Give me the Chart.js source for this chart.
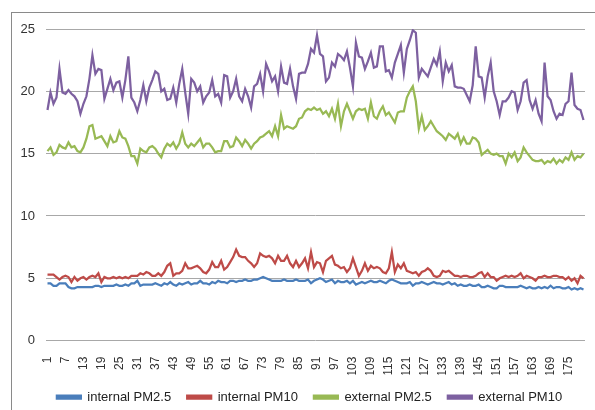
<!DOCTYPE html>
<html>
<head>
<meta charset="utf-8">
<script src="https://cdn.jsdelivr.net/npm/chart.js@4.4.1/dist/chart.umd.min.js"></script>
<style>
  html, body { margin: 0; padding: 0; background: #fff; overflow: hidden; }
  #wrap { position: relative; width: 595px; height: 410px; }
  #frame { position: absolute; left: 11px; top: 12px; width: 600px; height: 420px; border: 1px solid #8a8a8a; box-sizing: border-box; }
  canvas { position: absolute; left: 0; top: 0; }
</style>
</head>
<body>
<div id="wrap">
  <div id="frame"></div>
  <canvas id="c" width="595" height="410"></canvas>
</div>
<script>
// categories: day index 1..180
const categories = Array.from({length: 180}, (_, i) => String(i + 1));
const yTicks = [0, 5, 10, 15, 20, 25];
const seriesNames = ["internal PM2.5", "internal PM10", "external PM2.5", "external PM10"];

const internalPM25 = [
 4.6,4.6,4.4,4.4,4.6,4.6,4.6,4.3,4.2,4.2,
 4.3,4.3,4.3,4.3,4.3,4.3,4.4,4.4,4.3,4.4,
 4.4,4.4,4.4,4.5,4.4,4.4,4.5,4.4,4.6,4.6,
 4.8,4.4,4.5,4.5,4.5,4.5,4.6,4.5,4.4,4.6,
 4.5,4.7,4.5,4.4,4.6,4.5,4.6,4.7,4.5,4.6,
 4.6,4.8,4.6,4.6,4.5,4.7,4.6,4.8,4.7,4.7,
 4.6,4.8,4.8,4.7,4.8,4.8,4.9,4.8,4.8,4.9,
 4.9,5.0,5.1,5.0,4.9,4.8,4.8,4.8,4.8,4.9,
 4.8,4.8,4.8,4.9,4.8,4.8,4.8,4.9,4.6,4.8,
 4.9,5.0,4.9,4.7,4.8,4.9,4.6,4.8,4.7,4.7,
 4.8,4.6,4.8,4.5,4.6,4.7,4.6,4.7,4.8,4.7,
 4.7,4.8,4.7,4.6,4.8,4.9,4.8,4.7,4.6,4.6,
 4.6,4.7,4.4,4.6,4.6,4.7,4.6,4.5,4.6,4.7,
 4.6,4.6,4.5,4.6,4.7,4.5,4.6,4.4,4.5,4.4,
 4.4,4.5,4.4,4.4,4.5,4.3,4.3,4.4,4.3,4.2,
 4.2,4.4,4.4,4.3,4.3,4.3,4.3,4.3,4.4,4.3,
 4.2,4.3,4.2,4.2,4.3,4.2,4.3,4.2,4.4,4.2,
 4.3,4.3,4.2,4.2,4.3,4.1,4.2,4.1,4.2,4.1
];

const internalPM10 = [
 5.3,5.3,5.3,5.1,4.9,5.1,5.2,5.1,4.7,5.1,
 4.8,5.0,5.1,4.9,5.1,5.2,5.1,5.4,4.7,5.1,
 5.0,5.0,5.1,5.0,5.1,5.0,5.1,5.0,5.2,5.2,
 5.2,5.4,5.3,5.5,5.4,5.2,5.2,5.4,5.2,5.5,
 6.0,6.2,5.2,5.4,5.4,5.6,6.2,5.8,5.8,5.9,
 6.0,5.8,5.5,5.4,5.7,6.3,5.9,5.9,6.4,5.7,
 5.9,6.3,6.7,7.3,6.8,6.7,6.7,6.4,6.2,5.9,
 6.2,7.0,6.8,6.7,6.8,6.6,6.2,6.8,6.4,6.4,
 6.8,6.2,5.9,6.4,5.9,6.2,6.6,5.8,7.1,5.9,
 6.3,6.2,5.5,6.4,6.6,6.8,6.1,6.0,5.8,5.9,
 5.5,5.8,6.6,5.9,5.2,5.6,6.2,5.6,6.0,5.8,
 5.9,5.8,5.5,5.4,5.8,7.1,5.5,6.1,5.8,6.2,
 5.6,5.5,5.4,5.5,5.2,5.5,5.6,5.8,5.6,5.2,
 5.1,5.2,5.6,5.5,5.6,5.4,5.2,5.2,5.1,5.2,
 5.2,5.1,5.1,5.2,5.4,5.5,5.1,5.4,5.1,5.1,
 4.8,5.0,5.1,5.2,5.1,5.2,5.1,5.2,5.4,5.0,
 5.2,5.1,5.0,4.8,5.1,5.1,5.2,5.1,5.1,5.2,
 5.2,5.1,5.1,4.9,5.1,4.8,5.0,4.6,5.2,5.0
];

const externalPM25 = [
 15.2,15.5,14.9,15.1,15.7,15.5,15.4,15.9,15.5,15.6,
 15.2,15.1,15.5,16.2,17.2,17.3,16.2,16.3,16.4,16.0,
 15.6,16.4,15.9,16.0,16.8,16.3,16.2,15.6,14.8,14.8,
 14.2,15.4,15.2,15.1,15.5,15.6,15.4,15.0,14.7,15.4,
 15.8,15.6,15.9,15.4,15.8,16.7,15.8,15.5,15.8,15.6,
 15.9,16.2,15.5,15.8,15.8,15.5,15.1,15.2,15.2,16.0,
 16.0,15.5,15.6,16.3,16.0,15.6,16.1,15.8,15.4,15.8,
 16.0,16.3,16.4,16.6,16.8,16.4,17.2,16.4,18.1,17.0,
 17.2,17.1,17.0,17.2,17.8,17.9,18.4,18.6,18.5,18.7,
 18.5,18.6,18.2,18.4,18.0,18.6,17.8,19.0,17.2,18.4,
 19.0,18.4,17.8,18.4,18.6,18.5,18.6,17.8,19.1,18.0,
 17.8,18.4,18.8,18.1,18.3,17.9,17.5,18.3,18.4,18.4,
 19.5,20.0,20.4,19.2,17.0,18.0,16.9,17.2,17.6,17.2,
 16.8,16.6,16.4,16.1,16.6,16.4,16.2,16.6,15.8,16.3,
 15.8,15.8,16.3,16.2,15.9,14.9,15.1,15.3,15.0,14.9,
 15.0,14.8,14.8,14.2,15.0,14.7,15.1,14.4,14.7,15.5,
 15.1,14.8,14.5,14.4,14.4,14.5,14.2,14.4,14.3,14.6,
 14.2,14.5,14.3,14.7,14.5,15.1,14.5,14.8,14.7,15.0
];

const externalPM10 = [
 18.5,19.9,19.0,19.5,21.8,19.9,19.8,20.1,19.8,19.6,
 19.2,18.2,19.0,19.6,21.0,22.9,21.4,21.8,21.7,19.4,
 20.2,21.0,20.1,20.7,20.8,19.5,20.9,22.8,19.5,19.1,
 18.4,19.3,20.5,19.2,20.3,20.9,21.6,21.4,20.0,20.2,
 19.3,19.4,20.3,19.1,20.6,21.8,19.9,18.2,21.0,20.7,
 20.0,20.4,19.1,19.6,19.9,20.9,19.6,19.8,19.1,21.3,
 21.2,19.5,20.0,21.0,19.6,19.2,20.2,19.6,18.7,20.4,
 20.6,21.4,20.0,22.2,21.6,20.8,21.2,20.0,22.0,20.7,
 20.6,21.8,20.4,19.4,21.4,21.5,21.5,22.2,23.4,23.1,
 24.5,23.0,22.8,20.8,21.1,22.3,22.0,23.0,22.8,22.5,
 23.2,21.9,20.4,23.9,22.8,22.7,21.8,22.4,23.1,21.9,
 22.0,23.6,23.6,21.6,21.7,21.1,22.3,23.0,23.7,21.5,
 23.4,24.1,24.9,24.7,21.1,21.8,21.5,21.2,21.9,22.6,
 22.1,23.2,20.8,22.3,21.6,22.1,20.4,20.3,20.3,20.2,
 19.7,19.2,20.5,23.6,21.2,21.1,19.5,21.2,22.3,20.0,
 19.2,18.1,19.2,19.2,19.5,20.0,19.9,18.5,19.2,20.7,
 20.9,19.3,18.6,19.3,18.2,17.6,22.3,19.6,19.3,18.4,
 17.8,18.2,18.1,19.0,19.2,21.5,18.9,18.6,18.5,17.7
];

const colors = ["#4a7ebb", "#be4b48", "#98b954", "#7d60a0"];
const allSeries = [internalPM25, internalPM10, externalPM25, externalPM10];

const FONT = "'Liberation Sans', Arial, sans-serif";

const datasets = allSeries.map((data, k) => ({
  label: seriesNames[k],
  data: data,
  borderColor: colors[k],
  backgroundColor: colors[k],
  borderWidth: 2.25,
  pointRadius: 0,
  tension: 0,
  fill: false
}));

// shift the legend block horizontally so it sits where the reference's legend is
const legendShift = {
  id: 'legendShift',
  afterLayout(chart) {
    const l = chart.legend;
    if (l) { l.left += 12; l.right += 12; }
  }
};

new Chart(document.getElementById('c'), {
  type: 'line',
  data: { labels: categories, datasets: datasets },
  plugins: [legendShift],
  options: {
    responsive: false,
    animation: false,
    devicePixelRatio: 1,
    layout: { padding: { left: 10, right: 10, top: 29, bottom: -3.6 } },
    plugins: {
      legend: {
        position: 'bottom',
        labels: {
          boxWidth: 24,
          boxHeight: 3,
          padding: 16,
          color: '#222',
          font: { family: FONT, size: 13 }
        }
      },
      tooltip: { enabled: false }
    },
    scales: {
      x: {
        offset: true,
        grid: { display: false },
        border: { display: false },
        ticks: {
          autoSkip: false,
          maxRotation: 90,
          minRotation: 90,
          padding: 8,
          color: '#333',
          font: { family: FONT, size: 12 },
          callback: function(v, i) { return (i % 6 === 0) ? categories[i] : null; }
        },
        afterFit: function(s) { s.height = 34; }
      },
      y: {
        min: 0,
        max: 25,
        afterBuildTicks: function(s) { s.ticks = yTicks.map(v => ({ value: v })); },
        grid: { color: '#a8a8a8', lineWidth: 1, drawTicks: false },
        border: { display: false },
        ticks: {
          padding: 11,
          color: '#333',
          font: { family: FONT, size: 13 }
        },
        afterFit: function(s) { s.width = 36; }
      }
    }
  }
});
</script>
</body>
</html>
